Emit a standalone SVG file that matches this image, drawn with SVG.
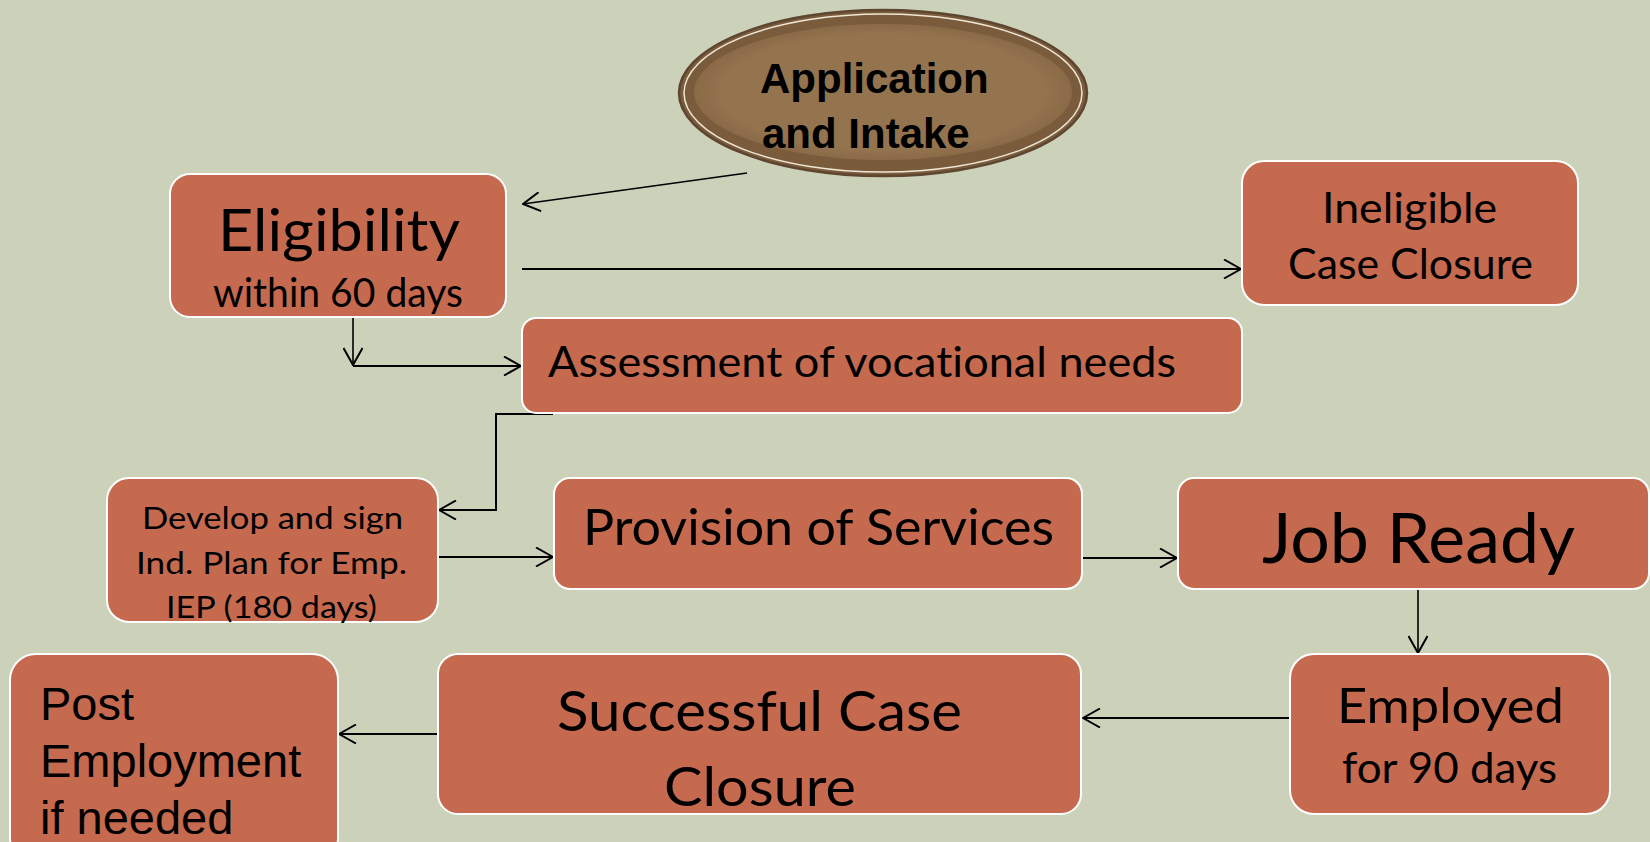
<svg xmlns="http://www.w3.org/2000/svg" width="1650" height="842" viewBox="0 0 1650 842">
<defs>
<style>
.box{fill:#C5694F;stroke:#FFFFFF;stroke-width:2}
.t{font-family:Lato,"Open Sans","Noto Sans",sans-serif;fill:#000;font-variant-ligatures:none;font-feature-settings:"liga" 0}
.a{font-family:"Liberation Sans",Arial,sans-serif;fill:#000}
.c{fill:none;stroke:#000;stroke-width:2}
.thin{stroke-width:1.6}
</style>
<marker id="arr" viewBox="0 0 20 20" refX="19" refY="10" markerWidth="20" markerHeight="20" markerUnits="userSpaceOnUse" orient="auto">
<path d="M2,0.5 L19,10 L2,19.5" fill="none" stroke="#000" stroke-width="2"/>
</marker>
<radialGradient id="eg" cx="50%" cy="50%" r="50%">
<stop offset="0.85" stop-color="#94744F"/>
<stop offset="1" stop-color="#8A6A47"/>
</radialGradient>
</defs>
<rect x="0" y="0" width="1650" height="842" fill="#CCD2BA"/>

<g id="connectors">
<path class="c thin" d="M747,173 L523,204" marker-end="url(#arr)"/>
<path class="c" d="M522,269 L1241,269" marker-end="url(#arr)"/>
<path class="c thin" d="M353,318 L353,365" marker-end="url(#arr)"/>
<path class="c" d="M353,366 L521,366" marker-end="url(#arr)"/>
<path class="c" d="M553,414 L496,414 L496,510 L439,510" marker-end="url(#arr)"/>
<path class="c" d="M438,557 L553,557" marker-end="url(#arr)"/>
<path class="c" d="M1082,558 L1177,558" marker-end="url(#arr)"/>
<path class="c thin" d="M1418,590 L1418,653" marker-end="url(#arr)"/>
<path class="c" d="M1290,718 L1083,718" marker-end="url(#arr)"/>
<path class="c" d="M438,734 L339,734" marker-end="url(#arr)"/>
</g>

<g id="application">
<ellipse cx="883" cy="93" rx="204" ry="83" fill="#7A5C3D" stroke="#5E4630" stroke-width="2.5"/>
<ellipse cx="883" cy="93" rx="199" ry="79" fill="none" stroke="#EFE6D6" stroke-width="1.5"/>
<ellipse cx="883" cy="92" rx="189" ry="68" fill="url(#eg)"/>
<text class="a" x="760" y="93" font-size="42" font-weight="bold">Application</text>
<text class="a" x="762" y="148" font-size="42" font-weight="bold">and Intake</text>
</g>

<g id="eligibility">
<rect class="box" x="170" y="174" width="336" height="143" rx="20"/>
<text class="t" x="218" y="251" font-size="59" textLength="242" lengthAdjust="spacingAndGlyphs">Eligibility</text>
<text class="t" x="213" y="307" font-size="41" textLength="250" lengthAdjust="spacingAndGlyphs">within 60 days</text>
</g>

<g id="ineligible">
<rect class="box" x="1242" y="161" width="336" height="144" rx="22"/>
<text class="t" x="1322" y="223" font-size="42" textLength="175" lengthAdjust="spacingAndGlyphs">Ineligible</text>
<text class="t" x="1288" y="279" font-size="42" textLength="245" lengthAdjust="spacingAndGlyphs">Case Closure</text>
</g>

<g id="assessment">
<rect class="box" x="522" y="318" width="720" height="95" rx="14"/>
<text class="t" x="548" y="377" font-size="42" textLength="628" lengthAdjust="spacingAndGlyphs">Assessment of vocational needs</text>
</g>

<g id="iep">
<rect class="box" x="107" y="478" width="331" height="144" rx="22"/>
<text class="t" x="142" y="529" font-size="31" textLength="261" lengthAdjust="spacingAndGlyphs">Develop and sign</text>
<text class="t" x="136" y="574" font-size="31" textLength="271" lengthAdjust="spacingAndGlyphs">Ind. Plan for Emp.</text>
<text class="t" x="166" y="618" font-size="31" textLength="211" lengthAdjust="spacingAndGlyphs">IEP (180 days)</text>
</g>

<g id="provision">
<rect class="box" x="554" y="478" width="528" height="111" rx="16"/>
<text class="t" x="583" y="545" font-size="50" textLength="471" lengthAdjust="spacingAndGlyphs">Provision of Services</text>
</g>

<g id="jobready">
<rect class="box" x="1178" y="478" width="471" height="111" rx="16"/>
<text class="t" x="1262" y="563" font-size="70" textLength="313" lengthAdjust="spacingAndGlyphs">Job Ready</text>
</g>

<g id="employed">
<rect class="box" x="1290" y="654" width="320" height="160" rx="24"/>
<text class="t" x="1337" y="723" font-size="49" textLength="227" lengthAdjust="spacingAndGlyphs">Employed</text>
<text class="t" x="1342" y="783" font-size="43" textLength="215" lengthAdjust="spacingAndGlyphs">for 90 days</text>
</g>

<g id="successful">
<rect class="box" x="438" y="654" width="643" height="160" rx="20"/>
<text class="t" x="557" y="731" font-size="57" textLength="405" lengthAdjust="spacingAndGlyphs">Successful Case</text>
<text class="t" x="664" y="806" font-size="55" textLength="192" lengthAdjust="spacingAndGlyphs">Closure</text>
</g>

<g id="post">
<rect class="box" x="10" y="654" width="328" height="210" rx="26"/>
<text class="a" x="40" y="720" font-size="47">Post</text>
<text class="a" x="40" y="777" font-size="47">Employment</text>
<text class="a" x="40" y="834" font-size="47">if needed</text>
</g>
</svg>
